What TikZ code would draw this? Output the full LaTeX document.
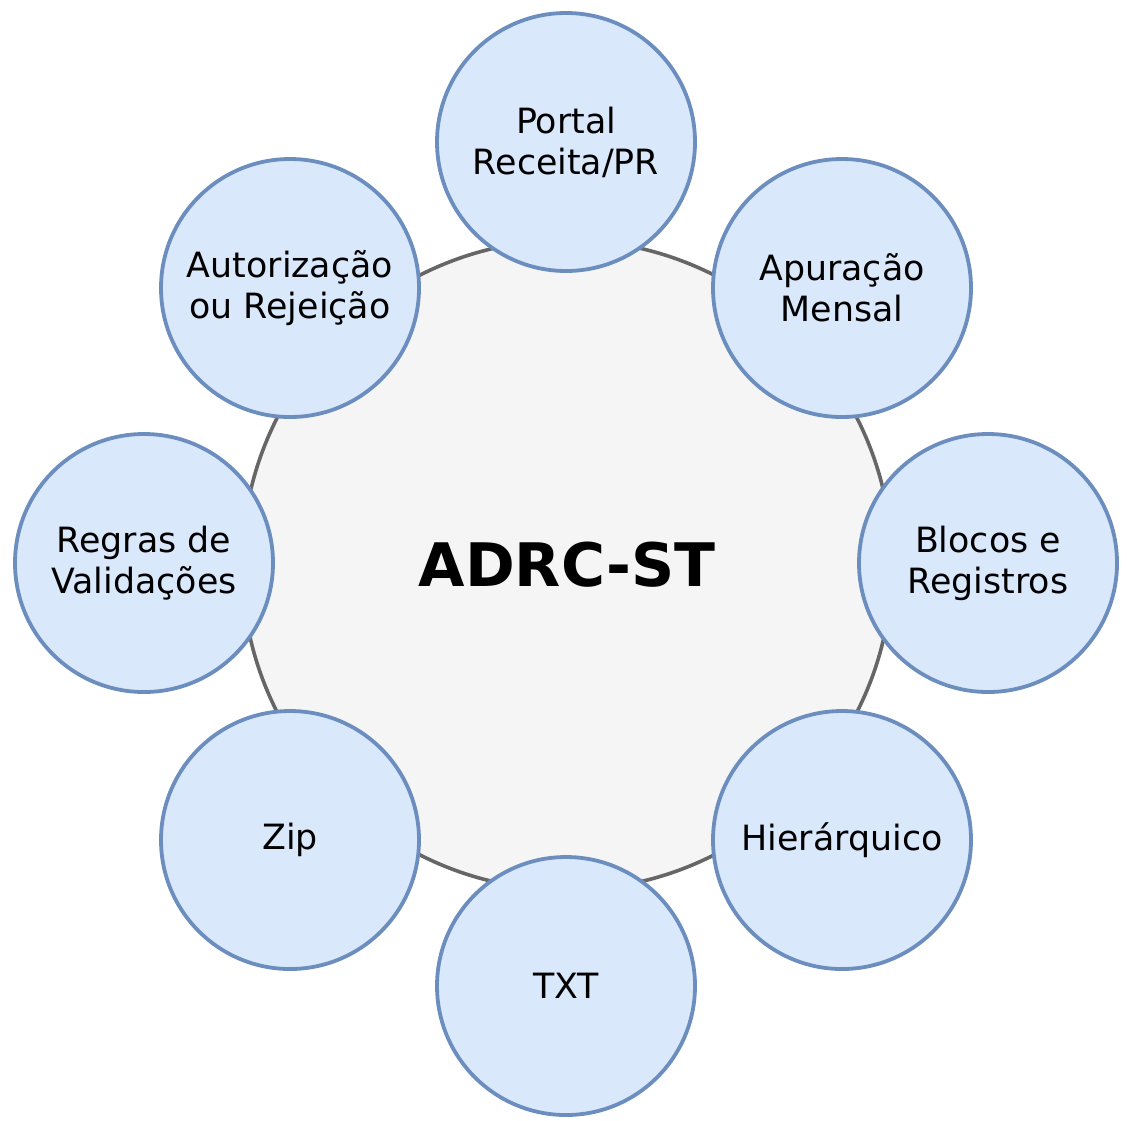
\documentclass[tikz,border=0pt]{standalone}
\usepackage{fontspec}
\setmainfont{DejaVu Sans}
\definecolor{itemfill}{HTML}{DAE8FC}
\definecolor{itemline}{HTML}{6C8EBF}
\definecolor{hubfill}{HTML}{F5F5F5}
\definecolor{hubline}{HTML}{666666}
\begin{document}
\begin{tikzpicture}[x = 0.5pt, y = -0.5pt,
    hub/.style = {circle, draw = hubline, fill = hubfill, line width = 1.8pt,
      minimum size = 325pt, inner sep = 0pt,
      font = \fontsize{30}{34}\selectfont\bfseries},
    item/.style = {circle, draw = itemline, fill = itemfill, line width = 1.9pt,
      minimum size = 129pt, inner sep = 0pt, align = center,
      font = \fontsize{17.4}{20.5}\selectfont}]
      \useasboundingbox (0, 0) rectangle (1127, 1120);
      \node [hub] (adrc) at (567, 565) {ADRC-ST};
      \node [item] (portal) at (566, 142) {Portal\\Receita/PR};
      \node [item] (apuracao) at (842, 288) {Apuração\\Mensal};
      \node [item] (blocos) at (988, 563) {Blocos e\\Registros};
      \node [item] (hier) at (842, 840) {Hierárquico};
      \node [item] (txt) at (566, 986) {TXT};
      \node [item] (zip) at (290, 840) {Zip};
      \node [item] (regras) at (144, 563) {Regras de\\Validações};
      \node [item] (autoriz) at (290, 288) {Autorização\\ou Rejeição};
    \end{tikzpicture}
\end{document}
